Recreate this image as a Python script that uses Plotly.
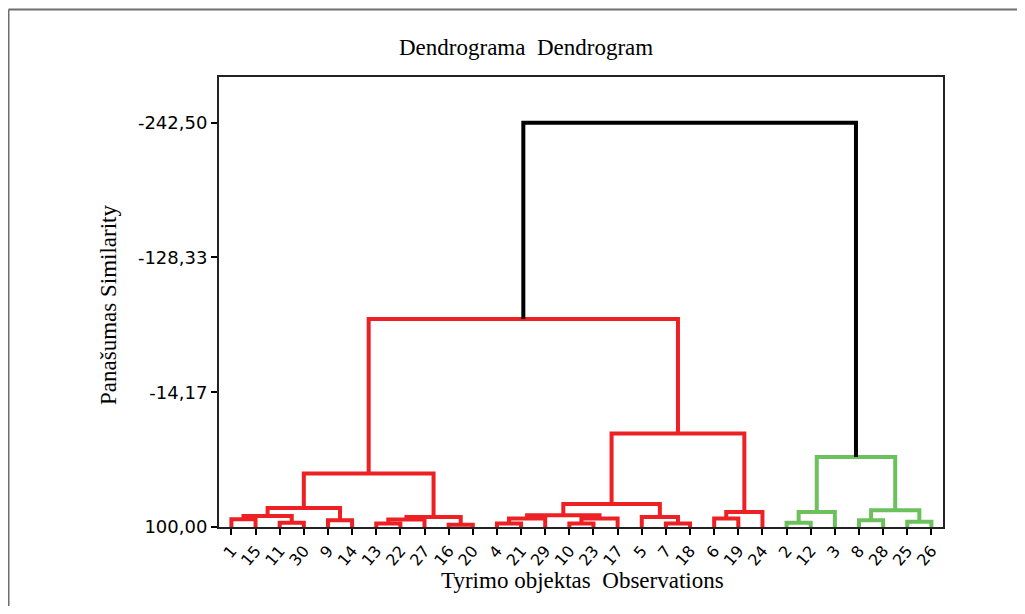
import plotly.graph_objects as go

# ---- data -------------------------------------------------------------
leaf_order = [1, 15, 11, 30, 9, 14, 13, 22, 27, 16, 20, 4, 21, 29, 10, 23, 17,
              5, 7, 18, 6, 19, 24, 2, 12, 3, 8, 28, 25, 26]

# hclust-style merge table: negative = observation, positive = earlier merge row (1-based)
merge_left = [-16, -7, -4, -11, -2, -13, -10, -25, -1, -9, -8, 3, 6, 7, -6,
              -5, 9, 13, 12, 15, 5, 11, 17, 19, 23, 24, 21, 25, 28]
merge_right = [-20, -18, -21, -30, -12, -22, -23, -26, -15, -14, -28, -29, -27,
               -17, -19, 2, 4, 1, 14, -24, -3, 8, 10, 16, 18, 20, 22, 26, 27]
merge_height = [98.0, 97.1, 97.1, 96.3, 96.5, 97.1, 97.1, 95.5, 93.5, 94.3,
                94.3, 92.9, 93.7, 92.9, 92.9, 91.5, 90.7, 91.5, 90.1, 87.3,
                87.3, 85.8, 83.9, 80.5, 54.7, 20.8, 40.8, -76.2, -242.5]

y_tick_vals = [-242.5, -128.33, -14.17, 100.0]
y_tick_text = ["-242,50", "-128,33", "-14,17", "100,00"]
leaf_level = 100.0

RED, GREEN, BLACK = "#ED2024", "#6CC15C", "#000000"

# ---- build dendrogram segments ----------------------------------------
n = len(merge_height)
pos = {}
hgt = {}
for i, lab in enumerate(leaf_order):
    pos[-lab] = float(i)
    hgt[-lab] = leaf_level
for k in range(n):
    a, b = merge_left[k], merge_right[k]
    pos[k + 1] = (pos[a] + pos[b]) / 2
    hgt[k + 1] = merge_height[k]

# colour: root black, the two root sub-trees red / green
color_of = {n: BLACK}
root_children = [merge_left[-1], merge_right[-1]]
for c, col in zip(root_children, [RED, GREEN]):
    stack = [c]
    while stack:
        node = stack.pop()
        if node > 0:
            color_of[node] = col
            stack.extend([merge_left[node - 1], merge_right[node - 1]])

segs = {RED: ([], []), GREEN: ([], []), BLACK: ([], [])}
for k in range(n):
    node = k + 1
    a, b = merge_left[k], merge_right[k]
    xs, ys = segs[color_of[node]]
    xs.extend([pos[a], pos[a], pos[b], pos[b], None])
    ys.extend([hgt[a], hgt[node], hgt[node], hgt[b], None])

fig = go.Figure()
for col in [RED, GREEN, BLACK]:
    xs, ys = segs[col]
    fig.add_trace(go.Scatter(x=xs, y=ys, mode="lines",
                             line=dict(color=col, width=4),
                             hoverinfo="skip", showlegend=False))

serif = "Liberation Serif, Times New Roman, serif"
sans = "DejaVu Sans, Verdana, sans-serif"

fx0 = (8.5 - 219) / 724
fy1 = (527 - 9.5) / 450
frame = dict(color="#6e6e6e", width=2)

fig.update_layout(
    width=1009, height=598,
    margin=dict(l=211, r=74, t=69, b=79),
    paper_bgcolor="white", plot_bgcolor="white",
    showlegend=False,
    xaxis=dict(range=[-0.514, 29.48], tickmode="array",
               tickvals=list(range(len(leaf_order))),
               ticktext=[str(v) for v in leaf_order],
               tickangle=-50, ticks="outside", ticklen=6, tickwidth=1.5,
               tickcolor="black", showline=True, linecolor="#222",
               linewidth=2, mirror=True, showgrid=False, zeroline=False,
               tickfont=dict(family=sans, size=16, color="black")),
    yaxis=dict(range=[100, -281.2], tickmode="array",
               tickvals=y_tick_vals, ticktext=y_tick_text,
               ticks="outside", ticklen=6, tickwidth=1.5, tickcolor="black",
               showline=True, linecolor="#222", linewidth=2, mirror=True,
               showgrid=False, zeroline=False,
               tickfont=dict(family=sans, size=18, color="black")),
    annotations=[
        dict(text="Dendrograma  Dendrogram", xref="paper", yref="paper",
             x=(526 - 219) / 724, y=(527 - 47) / 450, showarrow=False,
             xanchor="center", yanchor="middle",
             font=dict(family=serif, size=23, color="black")),
        dict(text="Tyrimo objektas  Observations", xref="paper", yref="paper",
             x=(582 - 219) / 724, y=(527 - 580) / 450, showarrow=False,
             xanchor="center", yanchor="middle",
             font=dict(family=serif, size=23, color="black")),
        dict(text="Panašumas Similarity", xref="paper", yref="paper",
             x=(108 - 219) / 724, y=(527 - 305) / 450, showarrow=False,
             textangle=-90, xanchor="center", yanchor="middle",
             font=dict(family=serif, size=23, color="black")),
    ],
    shapes=[
        dict(type="line", xref="paper", yref="paper",
             x0=fx0, x1=1.2, y0=fy1, y1=fy1, line=frame, layer="below"),
        dict(type="line", xref="paper", yref="paper",
             x0=fx0, x1=fx0, y0=-0.3, y1=fy1, line=frame, layer="below"),
    ],
)

fig.write_html("out.html")
